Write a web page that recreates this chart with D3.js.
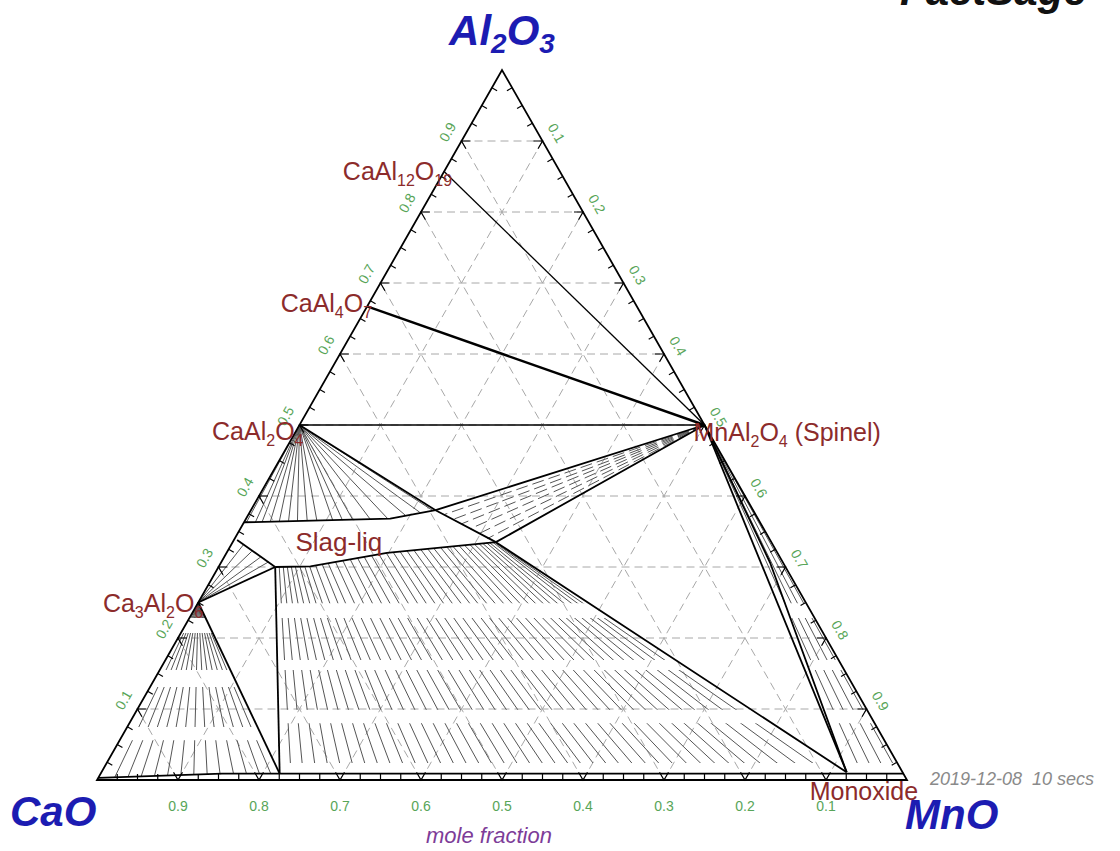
<!DOCTYPE html>
<html>
<head>
<meta charset="utf-8">
<script src="https://cdn.jsdelivr.net/npm/d3@7"></script>
<style>
  body { margin: 0; background: #fff; }
  svg { display: block; }
</style>
</head>
<body>
<svg id="chart" width="1120" height="851"></svg>
<script>
// Compositions are written as [x(MnO), x(Al2O3)]; x(CaO) is the remainder.

// Axis ticks
const gridValues = [0.1, 0.2, 0.3, 0.4, 0.5, 0.6, 0.7, 0.8, 0.9];
const tickLabels = ["0.1", "0.2", "0.3", "0.4", "0.5", "0.6", "0.7", "0.8", "0.9"];
const bottomTickLabels = ["0.9", "0.8", "0.7", "0.6", "0.5", "0.4", "0.3", "0.2", "0.1"];

// Stoichiometric compounds
const compoundNames = ["CaAl12O19", "CaAl4O7", "CaAl2O4", "Ca3Al2O6", "MnAl2O4"];
const compoundMnO   = [0, 0, 0, 0, 0.5];
const compoundAl2O3 = [0.857, 0.667, 0.5, 0.25, 0.5];

// Phase boundaries
const lineCaAl2O4Monoxide = [[0, 0.5], [0.228, 0.380], [0.325, 0.335], [0.92, 0.011]];
const liquidUpper = [[0, 0.363], [0.178, 0.368], [0.228, 0.380], [0.5, 0.5]];
const liquidLower = [[0.07, 0.300], [0.113, 0.301], [0.198, 0.320], [0.325, 0.335], [0.5, 0.5]];
const liquidLeft  = [[0.004, 0.338], [0.07, 0.300]];
const c3aLiquidEdge   = [[0, 0.25], [0.07, 0.300]];
const c3aMonoxideEdge = [[0, 0.25], [0.221, 0.009]];
const liquidMonoxideEdge = [[0.07, 0.300], [0.221, 0.009]];
const spinelMonoxideA = [[0.5, 0.5], [0.92, 0.011]];
const spinelMonoxideB = [[0.5, 0.5], [0.678, 0.306], [0.92, 0.011]];
const monoxideBoundary = [[0, 0.003], [0.15, 0.009], [0.991, 0.009]];

// Tie-line ends
const caAl2O4LiquidEnds = [[0.003, 0.363], [0.014, 0.363], [0.022, 0.364], [0.032, 0.364],
  [0.043, 0.364], [0.054, 0.365], [0.065, 0.365], [0.077, 0.365], [0.089, 0.365],
  [0.108, 0.366], [0.120, 0.366], [0.133, 0.366], [0.154, 0.367], [0.175, 0.368],
  [0.194, 0.373], [0.210, 0.377], [0.224, 0.380]];
const spinelLiquidEnds = [[0.242, 0.374], [0.256, 0.367], [0.270, 0.361], [0.284, 0.354],
  [0.298, 0.347], [0.312, 0.340]];
const c3aLiquidEnds = [[0.015, 0.331], [0.030, 0.322], [0.045, 0.314], [0.058, 0.307]];
const c3aMonoxideEnds = [[0.020, 0.004], [0.036, 0.005], [0.052, 0.005], [0.068, 0.006],
  [0.084, 0.006], [0.100, 0.007], [0.116, 0.007], [0.132, 0.008], [0.148, 0.008],
  [0.164, 0.009], [0.180, 0.009], [0.196, 0.009], [0.210, 0.009]];
const spinelMonoxideEnds = [[0.940, 0.009], [0.955, 0.009], [0.970, 0.009], [0.985, 0.009]];
const liquidMonoxideTies = [
  [[0.075, 0.300], [0.235, 0.009]], [[0.080, 0.300], [0.250, 0.009]],
  [[0.085, 0.300], [0.266, 0.009]], [[0.090, 0.300], [0.282, 0.009]],
  [[0.095, 0.300], [0.298, 0.009]], [[0.100, 0.301], [0.314, 0.009]],
  [[0.106, 0.301], [0.330, 0.009]], [[0.112, 0.301], [0.346, 0.009]],
  [[0.119, 0.302], [0.362, 0.009]], [[0.126, 0.304], [0.378, 0.009]],
  [[0.133, 0.305], [0.394, 0.009]], [[0.141, 0.307], [0.410, 0.009]],
  [[0.149, 0.309], [0.426, 0.009]], [[0.157, 0.311], [0.442, 0.009]],
  [[0.165, 0.313], [0.458, 0.009]], [[0.173, 0.314], [0.474, 0.009]],
  [[0.181, 0.316], [0.490, 0.009]], [[0.189, 0.318], [0.506, 0.009]],
  [[0.197, 0.320], [0.522, 0.009]], [[0.205, 0.321], [0.538, 0.009]],
  [[0.213, 0.322], [0.554, 0.009]], [[0.221, 0.323], [0.570, 0.009]],
  [[0.229, 0.324], [0.586, 0.009]], [[0.237, 0.325], [0.602, 0.009]],
  [[0.245, 0.326], [0.618, 0.009]], [[0.253, 0.326], [0.634, 0.009]],
  [[0.261, 0.327], [0.650, 0.009]], [[0.268, 0.328], [0.667, 0.009]],
  [[0.275, 0.329], [0.684, 0.009]], [[0.282, 0.330], [0.701, 0.009]],
  [[0.288, 0.331], [0.718, 0.009]], [[0.294, 0.332], [0.736, 0.009]],
  [[0.300, 0.332], [0.754, 0.009]], [[0.305, 0.333], [0.772, 0.009]],
  [[0.310, 0.333], [0.790, 0.009]], [[0.314, 0.334], [0.810, 0.009]],
  [[0.318, 0.334], [0.830, 0.009]], [[0.321, 0.335], [0.852, 0.009]],
  [[0.323, 0.335], [0.875, 0.009]], [[0.324, 0.335], [0.898, 0.009]]
];

// ---------------------------------------------------------------------------
const W = 1120, H = 851;
const svg = d3.select("#chart");
const defs = svg.append("defs");

// Ternary -> screen: horizontal scale runs CaO..MnO along the base, vertical is x(Al2O3)
const xScale = d3.scaleLinear().domain([0, 1]).range([97, 907]);
const yScale = d3.scaleLinear().domain([0, 1]).range([780, 70]);
const toXY = ([m, a]) => [xScale(m + a / 2), yScale(a)];
const path = d3.line().x(d => toXY(d)[0]).y(d => toXY(d)[1]);

const FONT = "'Liberation Sans', Arial, sans-serif";
const LABEL_RED = "#8c2b2b";
const BLUE = "#1c1cb2";
const GREEN = "#58a558";

// Horizontal clipping bands (in x(Al2O3)) that break tie-lines into rows
function bandClip(id, bands) {
  const cp = defs.append("clipPath").attr("id", id);
  bands.forEach(([lo, hi]) => {
    cp.append("rect").attr("x", 0).attr("width", W)
      .attr("y", yScale(hi)).attr("height", yScale(lo) - yScale(hi));
  });
}
bandClip("bandsLiq", [[0.249, 1], [0.169, 0.228], [0.099, 0.155], [0.024, 0.080]]);
bandClip("bandsC3A", [[0.228, 0.25], [0.155, 0.207], [0.0746, 0.131], [0.004, 0.056]]);

// ---- dashed grid ----
const grid = svg.append("g").attr("fill", "none").attr("stroke", "#a8a8a8")
  .attr("stroke-width", 1).attr("stroke-dasharray", "8,5");
gridValues.forEach(v => {
  grid.append("path").attr("d", path([[0, v], [1 - v, v]]));
  grid.append("path").attr("d", path([[v, 0], [v, 1 - v]]));
  grid.append("path").attr("d", path([[1 - v, 0], [0, 1 - v]]));
});

// ---- tie-lines ----
const ties = svg.append("g").attr("fill", "none").attr("stroke", "#555").attr("stroke-width", 1);
const caAl2O4 = [compoundMnO[2], compoundAl2O3[2]];
const c3a = [compoundMnO[3], compoundAl2O3[3]];
const spinel = [compoundMnO[4], compoundAl2O3[4]];

ties.append("g").selectAll("path").data(caAl2O4LiquidEnds).join("path")
  .attr("d", d => path([caAl2O4, d]));
ties.append("g").attr("stroke-dasharray", "12,5").selectAll("path").data(spinelLiquidEnds).join("path")
  .attr("d", d => path([spinel, d]));
ties.append("g").selectAll("path").data(c3aLiquidEnds).join("path")
  .attr("d", d => path([c3a, d]));
ties.append("g").attr("clip-path", "url(#bandsC3A)").selectAll("path").data(c3aMonoxideEnds).join("path")
  .attr("d", d => path([c3a, d]));
ties.append("g").attr("clip-path", "url(#bandsLiq)").selectAll("path").data(liquidMonoxideTies).join("path")
  .attr("d", d => path(d));
ties.append("g").attr("clip-path", "url(#bandsLiq)").selectAll("path").data(spinelMonoxideEnds).join("path")
  .attr("d", d => path([spinel, d]));

// ---- phase boundaries ----
const bnd = svg.append("g").attr("fill", "none").attr("stroke", "#000")
  .attr("stroke-linejoin", "round");
bnd.append("path").attr("d", path([[compoundMnO[0], compoundAl2O3[0]], spinel])).attr("stroke-width", 1.3);
bnd.append("path").attr("d", path([[compoundMnO[1], compoundAl2O3[1]], spinel])).attr("stroke-width", 2.4);
bnd.append("path").attr("d", path([caAl2O4, spinel])).attr("stroke-width", 1.6);
[lineCaAl2O4Monoxide, liquidUpper, liquidLower, liquidLeft, c3aLiquidEdge, c3aMonoxideEdge,
 liquidMonoxideEdge, spinelMonoxideA, spinelMonoxideB].forEach(p =>
  bnd.append("path").attr("d", path(p)).attr("stroke-width", 1.8));
bnd.append("path").attr("d", path(monoxideBoundary)).attr("stroke-width", 1.6);

// ---- triangle frame ----
svg.append("path").attr("d", path([[0, 0], [1, 0], [0, 1]]) + "Z")
  .attr("fill", "none").attr("stroke", "#000").attr("stroke-width", 1.8);

// ---- ticks ----
const ticks = svg.append("g").attr("stroke", "#000").attr("fill", "none").attr("stroke-width", 1.2);
const unit = (p, q) => {
  const [x0, y0] = toXY(p), [x1, y1] = toXY(q);
  const L = Math.hypot(x1 - x0, y1 - y0);
  return [(x1 - x0) / L, (y1 - y0) / L];
};
// each edge: point at parameter t, and two inward directions along the grid
const edges = [
  { pt: t => [0, t], d1: [0.01, 0], d2: [0.01, -0.01] },          // CaO-Al2O3 edge
  { pt: t => [t, 1 - t], d1: [-0.01, 0], d2: [0, -0.01] },        // Al2O3-MnO edge
  { pt: t => [t, 0], d1: [0, 0.01], d2: [-0.01, 0.01] }           // CaO-MnO edge
];
const minorSteps = d3.range(1, 40).map(i => i / 40);
edges.forEach(e => {
  minorSteps.forEach(t => {
    const p = e.pt(t);
    const [x, y] = toXY(p);
    const u1 = unit(p, [p[0] + e.d1[0], p[1] + e.d1[1]]);
    const u2 = unit(p, [p[0] + e.d2[0], p[1] + e.d2[1]]);
    const major = Math.abs(t * 10 - Math.round(t * 10)) < 1e-6;
    if (major) {
      const L = 9;
      ticks.append("path").attr("d",
        `M${x + u1[0] * L},${y + u1[1] * L}L${x},${y}L${x + u2[0] * L},${y + u2[1] * L}`);
    } else {
      const bx = u1[0] + u2[0], by = u1[1] + u2[1], bl = Math.hypot(bx, by);
      const L = 6;
      ticks.append("path").attr("d", `M${x},${y}L${x + bx / bl * L},${y + by / bl * L}`);
    }
  });
});

// ---- tick labels ----
const tl = svg.append("g").attr("fill", GREEN).attr("font-family", FONT).attr("font-size", 14)
  .attr("text-anchor", "middle").attr("dominant-baseline", "central");
gridValues.forEach((v, i) => {
  // bottom axis (CaO fraction)
  const [bx, by] = toXY([v, 0]);
  tl.append("text").attr("x", bx).attr("y", by + 26).text(bottomTickLabels[i]);
  // left axis (Al2O3)
  const [lx, ly] = toXY([0, v]);
  tl.append("text").attr("transform", `translate(${lx - 14},${ly - 9}) rotate(-60)`).text(tickLabels[i]);
  // right axis (MnO)
  const [rx, ry] = toXY([v, 1 - v]);
  tl.append("text").attr("transform", `translate(${rx + 14},${ry - 8}) rotate(60)`).text(tickLabels[i]);
});

// ---- labels with numeric subscripts ----
function chemText(g, str, size, subSize, subDy) {
  const t = g.append("text").attr("font-size", size);
  let shifted = false;
  str.split(/(\d+)/).filter(s => s.length).forEach(s => {
    if (/^\d+$/.test(s)) {
      t.append("tspan").attr("font-size", subSize).attr("dy", subDy).text(s);
      shifted = true;
    } else {
      const sp = t.append("tspan").text(s);
      if (shifted) { sp.attr("dy", -subDy); shifted = false; }
    }
  });
  return t;
}

const labels = svg.append("g").attr("font-family", FONT).attr("fill", LABEL_RED);
// placement of each compound name relative to its point
const nameOffsets = [[8, 8, "end"], [5, 6, "end"], [4, 15, "end"], [5, 9, "end"], [-11, 16, "start"]];
compoundNames.forEach((name, i) => {
  const [x, y] = toXY([compoundMnO[i], compoundAl2O3[i]]);
  const [dx, dy, anchor] = nameOffsets[i];
  const text = i === 4 ? name + " (Spinel)" : name;
  chemText(labels, text, 25, 16, 6).attr("x", x + dx).attr("y", y + dy).attr("text-anchor", anchor);
});
{
  const [x, y] = toXY([0.09, 0.32]);
  labels.append("text").attr("x", x - 4).attr("y", y - 2).attr("font-size", 26).text("Slag-liq");
  const [mx, my] = toXY([0.87, 0]);
  labels.append("text").attr("x", mx + 8).attr("y", my + 20).attr("font-size", 25).text("Monoxide");
}

// ---- component names ----
const comp = svg.append("g").attr("font-family", FONT).attr("font-weight", "bold")
  .attr("font-style", "italic").attr("fill", BLUE);
{
  const [ax, ay] = toXY([0, 1]);
  chemText(comp, "Al2O3", 42, 28, 8).attr("x", ax).attr("y", ay - 25).attr("text-anchor", "middle");
  const [cx, cy] = toXY([0, 0]);
  comp.append("text").attr("x", cx - 87).attr("y", cy + 46).attr("font-size", 42).text("CaO");
  const [nx, ny] = toXY([1, 0]);
  comp.append("text").attr("x", nx - 2).attr("y", ny + 49).attr("font-size", 42).text("MnO");
}

// ---- captions ----
svg.append("text").attr("x", 900).attr("y", 5).attr("font-family", FONT)
  .attr("font-weight", "bold").attr("font-style", "italic").attr("font-size", 42)
  .attr("fill", "#111").text("FactSage");
svg.append("text").attr("x", 930).attr("y", 785).attr("font-family", FONT)
  .attr("font-style", "italic").attr("font-size", 18).attr("fill", "#8a8a8a")
  .attr("xml:space", "preserve").style("white-space", "pre").text("2019-12-08  10 secs");
svg.append("text").attr("x", 489).attr("y", 843).attr("font-family", FONT)
  .attr("font-style", "italic").attr("font-size", 22).attr("fill", "#7d3c98")
  .attr("text-anchor", "middle").text("mole fraction");
</script>
</body>
</html>
